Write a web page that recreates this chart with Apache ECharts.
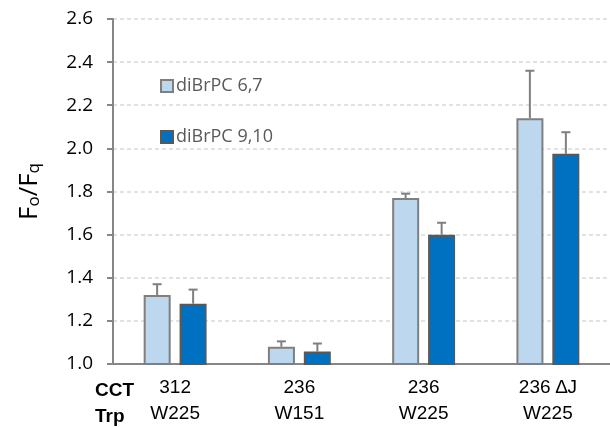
<!DOCTYPE html>
<html><head><meta charset="utf-8">
<script src="https://cdn.jsdelivr.net/npm/echarts@6/dist/echarts.min.js"></script>
<style>html,body{margin:0;padding:0;background:#fff}#c{width:610px;height:427px}</style>
</head><body><div id="c"></div>
<script>
const categories = ['312\nW225', '236\nW151', '236\nW225', '236 \u2206J\nW225'];
const seriesNames = ['diBrPC 6,7', 'diBrPC 9,10'];
const values67 = [1.32, 1.08, 1.77, 2.14];
const err67 = [0.05, 0.025, 0.02, 0.22];
const values910 = [1.28, 1.058, 1.60, 1.975];
const err910 = [0.065, 0.037, 0.055, 0.10];
const yTicks = { min: 1.0, max: 2.6, interval: 0.2 };
const rowLabels = ['CCT', 'Trp'];

const chart = echarts.init(document.getElementById('c'));
const narrow = '"Liberation Sans Narrow", "Arial Narrow", "Liberation Sans", Arial, sans-serif';
const calib = '"Open Sans", "Noto Sans", sans-serif';

function errSeries(vals, errs, offset) {
  return {
    type: 'custom',
    data: vals.map((v, i) => [i, v, v + errs[i]]),
    z: 1,
    renderItem: function (params, api) {
      const i = api.value(0);
      const p0 = api.coord([i, api.value(1)]);
      const p1 = api.coord([i, api.value(2)]);
      const x = p0[0] + offset;
      const st = { stroke: '#7f7f7f', lineWidth: 2 };
      return {
        type: 'group',
        children: [
          { type: 'line', shape: { x1: x, y1: p0[1], x2: x, y2: p1[1] }, style: st },
          { type: 'line', shape: { x1: x - 4.5, y1: p1[1], x2: x + 4.5, y2: p1[1] }, style: st }
        ]
      };
    }
  };
}

chart.setOption({
  animation: false,
  backgroundColor: '#fff',
  grid: { left: 113, top: 19, width: 505, bottom: 62 },
  legend: {
    orient: 'vertical', left: 155, top: 72,
    icon: 'rect',
    itemWidth: 12, itemHeight: 12, itemGap: 33,
    data: seriesNames,
    textStyle: { fontFamily: calib, fontSize: 18, color: '#595959', padding: [0, 0, 0, -2] }
  },
  xAxis: {
    type: 'category', data: categories,
    axisLine: { lineStyle: { color: '#868686', width: 2 } },
    axisTick: { show: false },
    axisLabel: { fontFamily: narrow, fontSize: 19, color: '#000', lineHeight: 26, margin: 11, interval: 0 }
  },
  yAxis: {
    type: 'value', min: yTicks.min, max: yTicks.max, interval: yTicks.interval,
    name: '{f|F}{s|o}{f|/F}{s|q}', nameLocation: 'middle', nameRotate: 90, nameGap: 70,
    nameTextStyle: {
      rich: {
        f: { fontFamily: calib, fontSize: 26, color: '#000', lineHeight: 34, verticalAlign: 'bottom' },
        s: { fontFamily: calib, fontSize: 17, color: '#000', lineHeight: 14, verticalAlign: 'bottom' }
      }
    },
    axisLine: { show: true, lineStyle: { color: '#868686', width: 2 } },
    axisTick: { show: true, inside: false, length: 6, lineStyle: { color: '#868686', width: 2 } },
    axisLabel: { fontFamily: calib, fontSize: 19, color: '#000', margin: 20, formatter: v => v.toFixed(1) },
    splitLine: { lineStyle: { color: '#d9d9d9', width: 1.5, type: [4, 3] } }
  },
  graphic: [
    { type: 'text', left: 95, top: 378, style: { text: rowLabels.join('\n'), fontFamily: narrow, fontWeight: 'bold', fontSize: 19, lineHeight: 26, fill: '#000' } }
  ],
  series: [
    { name: seriesNames[0], type: 'bar', data: values67, barWidth: 27, barGap: '33%', z: 2,
      itemStyle: { color: '#bdd7ee', borderColor: '#7f7f7f', borderWidth: 2 } },
    { name: seriesNames[1], type: 'bar', data: values910, barWidth: 27, barGap: '33%', z: 2,
      itemStyle: { color: '#0070c0', borderColor: '#595959', borderWidth: 2 } },
    errSeries(values67, err67, -18),
    errSeries(values910, err910, 18)
  ]
});
</script></body></html>
